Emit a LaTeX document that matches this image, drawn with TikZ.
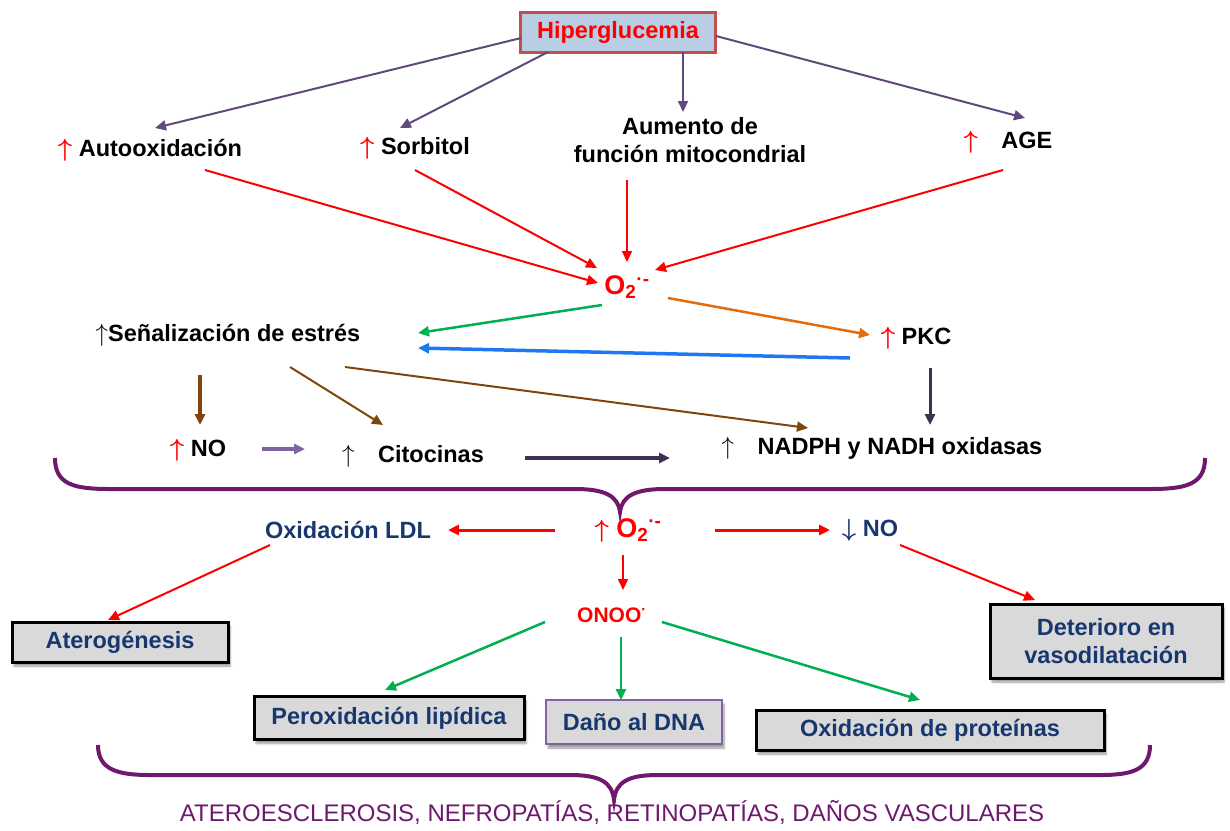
\documentclass[tikz,border=0pt]{standalone}
\usepackage{fontspec}
\setmainfont{Liberation Sans}
\usetikzlibrary{arrows.meta}
\usetikzlibrary{calc}
\usetikzlibrary{shadows.blur}
\definecolor{hypfill}{RGB}{185,205,229}
\definecolor{hypline}{RGB}{192,80,77}
\definecolor{toparrow}{RGB}{96,74,123}
\definecolor{darkarrow}{RGB}{64,49,82}
\definecolor{softarrow}{RGB}{128,100,162}
\definecolor{greenarrow}{RGB}{0,176,80}
\definecolor{orangearrow}{RGB}{228,108,10}
\definecolor{bluearrow}{RGB}{30,120,240}
\definecolor{brownarrow}{RGB}{127,70,10}
\definecolor{navytext}{RGB}{23,55,110}
\definecolor{boxgray}{RGB}{217,217,217}
\definecolor{bracepurple}{RGB}{110,25,110}
\tikzset{basic text/.style={inner sep=2pt,
                            font=\fontsize{23.5}{28}\selectfont\bfseries}}
\tikzset{link/.style={draw,
                      line width=2pt,
                      -{Triangle[length=11pt,width=10pt]}}}
\tikzset{result box/.style={basic text,
                            draw,
                            line width=3pt,
                            fill=boxgray,
                            text=navytext,
                            blur shadow={shadow xshift=2pt,shadow yshift=-4pt,shadow blur steps=6}}}
\newcommand{\UpBold}{{\boldmath$\uparrow$}}
\newcommand{\DownBold}{{\boldmath$\downarrow$}}
\newcommand{\UpRed}{\textcolor{red}{\UpBold}}
\newcommand{\UpThin}{$\uparrow$}

\begin{document}
\begin{tikzpicture}
  [
    x=1pt,y=-1pt,
    top link/.style={link,toparrow},
    red link/.style={link,red},
    green link/.style={link,greenarrow,line width=2.5pt},
    brown link/.style={link,brownarrow},
    o2 text/.style={basic text,text=red,font=\fontsize{27}{30}\selectfont\bfseries},
    brace/.style={draw,bracepurple,line width=4pt},
  ]
    \useasboundingbox (0,0) rectangle (1230,830);

    % top row
    \node [basic text,draw=hypline,line width=3pt,fill=hypfill,text=red,
           minimum width=195pt,minimum height=40pt] (hyper) at (618,32) {Hiperglucemia};
    \node [basic text] (auto) at (150,150) {\UpRed\;Autooxidación};
    \node [basic text] (sorb) at (415,148) {\UpRed\;Sorbitol};
    \node [basic text,align=center] (mito) at (690,140) {Aumento de\\función mitocondrial};
    \node [basic text] (age) at (1008,142) {\UpRed\quad AGE};

    % superoxide and signals
    \node [o2 text] (o2) at (627,287) {O\textsubscript{2}\textsuperscript{·-}};
    \node [basic text] (sen) at (228,335) {\UpThin Señalización de estrés};
    \node [basic text] (pkc) at (916,338) {\UpRed\;PKC};
    \node [basic text] (no) at (198,450) {\UpRed\;NO};
    \node [basic text] (cit) at (413,456) {\UpThin\quad Citocinas};
    \node [basic text] (nadph) at (882,448) {\UpThin\quad NADPH y NADH oxidasas};

    % second level
    \node [basic text,text=navytext] (ldl) at (348,530) {Oxidación LDL};
    \node [o2 text] (o2b) at (628,530) {\UpBold\;O\textsubscript{2}\textsuperscript{·-}};
    \node [basic text,text=navytext] (nob) at (870,530) {\DownBold\;NO};
    \node [basic text,text=red,font=\fontsize{21}{24}\selectfont\bfseries] (onoo) at (612,615) {ONOO\textsuperscript{·}};

    % damage boxes
    \node [result box,minimum width=216pt,minimum height=40pt] (aterog) at (120,642) {Aterogénesis};
    \node [result box,minimum width=232pt,minimum height=74pt,align=center] (det) at (1106,641) {Deterioro en\\vasodilatación};
    \node [result box,minimum width=270pt,minimum height=43pt] (perox) at (389,718) {Peroxidación lipídica};
    \node [result box,draw=softarrow,line width=2pt,minimum width=176pt,minimum height=44pt] (dna) at (634,722) {Daño al DNA};
    \node [result box,minimum width=348pt,minimum height=40pt] (prot) at (930,730) {Oxidación de proteínas};

    \node [inner sep=0pt,text=bracepurple,font=\fontsize{24}{28}\selectfont] (enf) at (612,812)
      {ATEROESCLEROSIS, NEFROPATÍAS, RETINOPATÍAS, DAÑOS VASCULARES};

    % edges from hiperglucemia
    \path [top link] ($(hyper)+(-97,6)$) -- ($(auto)+(5,-22)$);
    \path [top link] ($(hyper)+(-70,20)$) -- ($(sorb)+(-15,-20)$);
    \path [top link] ($(hyper)+(65,20)$) -- ($(mito)+(-7,-28)$);
    \path [top link] ($(hyper)+(98,4)$) -- ($(age)+(17,-24)$);

    % edges into O2
    \foreach \src/\sx/\sy/\tx/\ty in
      {
        auto/55/20/-29/-4,
        sorb/0/22/-30/-19,
        mito/-63/40/0/-25,
        age/-5/28/28/-17
      }
    {
    \path [red link] ($(\src)+(\sx,\sy)$) -- ($(o2)+(\tx,\ty)$);
    }

    % edges around PKC
    \path [green link] ($(o2)+(-25,18)$) -- ($(sen)+(190,-2)$);
    \path [link,orangearrow,line width=2.5pt] ($(o2)+(41,11)$) -- ($(pkc)+(-46,-3)$);
    \path [link,bluearrow,line width=3.5pt] ($(pkc)+(-66,20)$) -- ($(sen)+(190,13)$);
    \path [brown link,line width=4pt] ($(sen)+(-28,40)$) -- ($(no)+(2,-25)$);
    \path [brown link] ($(sen)+(62,32)$) -- ($(cit)+(-30,-31)$);
    \path [brown link] ($(sen)+(117,32)$) -- ($(nadph)+(-74,-20)$);
    \path [link,darkarrow,line width=3pt] ($(pkc)+(14,30)$) -- ($(nadph)+(48,-23)$);
    \path [link,softarrow,line width=4pt] ($(no)+(64,-1)$) -- ($(cit)+(-108,-7)$);
    \path [link,darkarrow,line width=4pt] ($(cit)+(112,2)$) -- ($(nadph)+(-212,10)$);

    % braces
    \path [brace] (55,458) .. controls (55,485) and (75,489) .. (110,489) -- (575,489)
      .. controls (605,489) and (618,496) .. (620,512)
      .. controls (622,496) and (635,489) .. (665,489) -- (1150,489)
      .. controls (1185,489) and (1205,485) .. (1205,458);
    \path [brace] (98,745) .. controls (98,770) and (118,775) .. (150,775) -- (570,775)
      .. controls (600,775) and (612,782) .. (614,800)
      .. controls (616,782) and (628,775) .. (658,775) -- (1100,775)
      .. controls (1132,775) and (1150,770) .. (1150,745);

    % edges of the second level
    \path [red link,line width=3pt] ($(o2b)+(-73,0)$) -- ($(ldl)+(100,0)$);
    \path [red link,line width=3pt] ($(o2b)+(87,0)$) -- ($(nob)+(-40,0)$);
    \path [red link] ($(o2b)+(-5,25)$) -- ($(onoo)+(11,-25)$);
    \path [red link] ($(ldl)+(-78,15)$) -- ($(aterog)+(-12,-22)$);
    \path [red link] ($(nob)+(30,15)$) -- ($(det)+(-71,-41)$);
    \path [green link] ($(onoo)+(-67,7)$) -- ($(perox)+(-4,-28)$);
    \path [green link] ($(onoo)+(9,22)$) -- ($(dna)+(-13,-22)$);
    \path [green link] ($(onoo)+(50,7)$) -- ($(prot)+(-10,-30)$);

  \end{tikzpicture}
\end{document}
